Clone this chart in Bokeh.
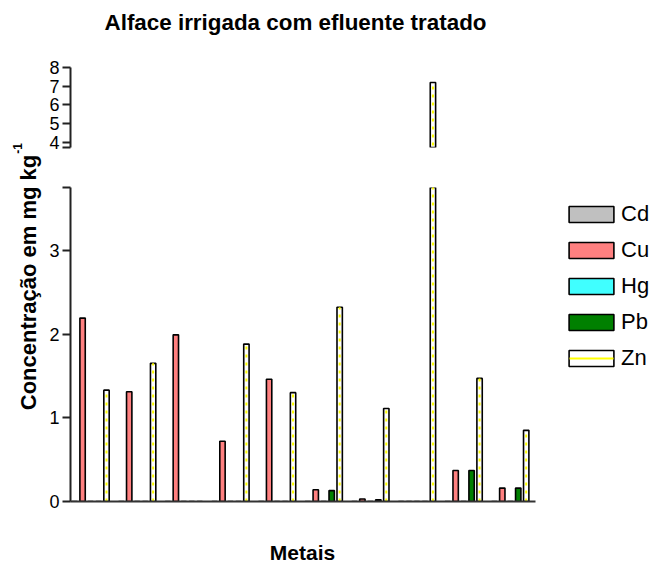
import math

from bokeh.embed import file_html
from bokeh.layouts import column, row
from bokeh.models import (BooleanFilter, CDSView, ColumnDataSource, FixedTicker,
                          Label, Legend, LegendItem, Range1d)
from bokeh.plotting import figure
from bokeh.resources import INLINE
from bokeh.transform import dodge

FONT = "Liberation Sans"

# Ten lettuce samples, five metals each (mg/kg)
sample = [0, 1, 2, 3, 4, 5, 6, 7, 8, 9]
metals = ["Cd", "Cu", "Hg", "Pb", "Zn"]
cd = [0.0, 0.0, 0.0, 0.0, 0.0, 0.0, 0.0, 0.0, 0.0, 0.0]
cu = [2.19, 1.31, 1.99, 0.72, 1.46, 0.14, 0.03, 0.0, 0.37, 0.16]
hg = [0.0, 0.0, 0.0, 0.0, 0.0, 0.0, 0.0, 0.0, 0.0, 0.0]
pb = [0.0, 0.0, 0.0, 0.0, 0.0, 0.13, 0.02, 0.0, 0.37, 0.16]
zn = [1.33, 1.65, 0.0, 1.88, 1.30, 2.32, 1.11, 7.20, 1.47, 0.85]
fills = ["#C0C0C0", "#FF8080", "#40FFFF", "#008000", "#FFFFFF"]

lower_ticks = [0, 1, 2, 3]
upper_ticks = [4, 5, 6, 7, 8]
LOW_TOP = 3.75       # top of the lower axis segment
HIGH_BOTTOM = 3.733  # bottom of the upper axis segment
HIGH_TOP = 8

data = dict(x=sample, Cd=cd, Cu=cu, Hg=hg, Pb=pb, Zn=zn)
src = ColumnDataSource(data)

STEP = 0.171   # offset between neighbouring bars in a group
BAR_W = 0.115
X0, X1 = -0.43, 9.55   # extent of the bar area (and of the x-axis line)

# pixel geometry of the plot frames
LEFT = 22          # room for the y ticks
FRAME_W = 467      # width of the bar area
COL_W = 608        # width of the right-hand column
# the frames run on to the right edge so the legend sits inside them
X1_WIDE = X0 + (X1 - X0) * (COL_W - LEFT) / FRAME_W


def strip(width, height):
    """Blank figure used only to hold a text label."""
    f = figure(width=width, height=height, output_backend="svg",
               toolbar_location=None, x_axis_location=None,
               y_axis_location=None, min_border=0,
               x_range=Range1d(0, 1), y_range=Range1d(0, 1))
    f.grid.visible = False
    f.outline_line_color = None
    return f


def draw_bars(fig, floor=None):
    rs = {}
    for j, (m, c) in enumerate(zip(metals, fills)):
        kw = {}
        if floor is not None:
            kw["view"] = CDSView(filter=BooleanFilter([v > floor for v in data[m]]))
        rs[m] = fig.vbar(x=dodge("x", (j - 2) * STEP), top=m, bottom=0,
                         width=BAR_W, source=src, fill_color=c,
                         line_color="black", line_width=1.6, **kw)
    # yellow dashed stripe inside the zinc bars
    kw = {}
    if floor is not None:
        kw["view"] = CDSView(filter=BooleanFilter([v > floor for v in data["Zn"]]))
    fig.segment(x0=dodge("x", 2 * STEP), y0=0, x1=dodge("x", 2 * STEP), y1="Zn",
                source=src, line_color="#FFFF00", line_width=2,
                line_dash="3 5", **kw)
    return rs


def style_yaxis(fig, ticks, cap):
    ax = fig.yaxis[0]
    ax.ticker = FixedTicker(ticks=ticks + [cap])
    ax.major_label_overrides = {cap: ""}
    ax.axis_line_color = "#222222"
    ax.axis_line_width = 2
    ax.major_tick_line_color = "#222222"
    ax.major_tick_line_width = 2
    ax.major_tick_out = 8
    ax.major_tick_in = 0
    ax.minor_tick_line_color = None
    ax.major_label_standoff = 3
    ax.major_label_text_font = FONT
    ax.major_label_text_font_size = "18px"
    ax.major_label_text_color = "#000000"


# title strip
head = strip(COL_W, 45)
head.add_layout(Label(x=225, y=23, x_units="screen", y_units="screen",
                      text="Alface irrigada com efluente tratado",
                      text_align="center", text_baseline="middle",
                      text_font=FONT, text_font_style="bold",
                      text_font_size="22.4px", text_color="#000000"))

# upper segment of the broken axis
top = figure(width=COL_W, height=122, output_backend="svg", toolbar_location=None,
             x_range=Range1d(X0, X1_WIDE), y_range=Range1d(HIGH_BOTTOM, HIGH_TOP),
             x_axis_location=None, min_border_left=LEFT, min_border_right=0,
             min_border_top=22, min_border_bottom=20)
draw_bars(top, floor=HIGH_BOTTOM)
style_yaxis(top, upper_ticks, HIGH_BOTTOM)
top.grid.visible = False
top.outline_line_color = None

# lower segment
bot = figure(width=COL_W, height=348, output_backend="svg", toolbar_location=None,
             x_range=Range1d(X0, X1_WIDE), y_range=Range1d(0, LOW_TOP),
             min_border_left=LEFT, min_border_right=0,
             min_border_top=20, min_border_bottom=14)
rs = draw_bars(bot)
style_yaxis(bot, lower_ticks, LOW_TOP)
bot.grid.visible = False
bot.outline_line_color = None
xa = bot.xaxis[0]
xa.bounds = (X0, X1)
xa.ticker = FixedTicker(ticks=[])
xa.major_tick_out = 0
xa.major_label_standoff = 0
xa.axis_line_color = "#333333"
xa.axis_line_width = 2

# legend key stroke for zinc (a single point, so no line shows in the plot);
# the leading gap keeps the stroke inside the key box
zn_key = bot.line(x=sample[:1], y=zn[:1], line_color="#FFFF00", line_width=2,
                  line_dash="0 6 44 20")
items = [LegendItem(label=m, renderers=[rs[m]]) for m in metals[:4]]
items.append(LegendItem(label="Zn", renderers=[rs["Zn"], zn_key]))
legend = Legend(items=items, location=(493, 130), orientation="vertical",
                glyph_width=56, glyph_height=20, label_height=26, spacing=10,
                label_standoff=2, padding=0, margin=0,
                label_text_font=FONT, label_text_font_size="22px",
                label_text_color="#000000",
                border_line_color=None, background_fill_alpha=0)
bot.add_layout(legend)

# x-axis title strip
foot = strip(COL_W, 53)
foot.add_layout(Label(x=232, y=16, x_units="screen", y_units="screen",
                      text="Metais", text_align="center", text_baseline="middle",
                      text_font=FONT, text_font_style="bold",
                      text_font_size="21px", text_color="#000000"))

# narrow strip holding the shared y-axis title
lab = strip(46, 568)
lab.add_layout(Label(x=28, y=286, x_units="screen", y_units="screen",
                     text="Concentração em mg kg", angle=math.pi / 2,
                     text_align="center", text_baseline="middle",
                     text_font=FONT, text_font_style="bold",
                     text_font_size="22px", text_color="#000000"))
lab.add_layout(Label(x=17, y=420, x_units="screen", y_units="screen",
                     text="-1", angle=math.pi / 2,
                     text_align="center", text_baseline="middle",
                     text_font=FONT, text_font_style="bold",
                     text_font_size="12px", text_color="#000000"))

layout = row(lab, column(head, top, bot, foot, spacing=0), spacing=0)

open("out.html", "w").write(file_html(layout, INLINE))
